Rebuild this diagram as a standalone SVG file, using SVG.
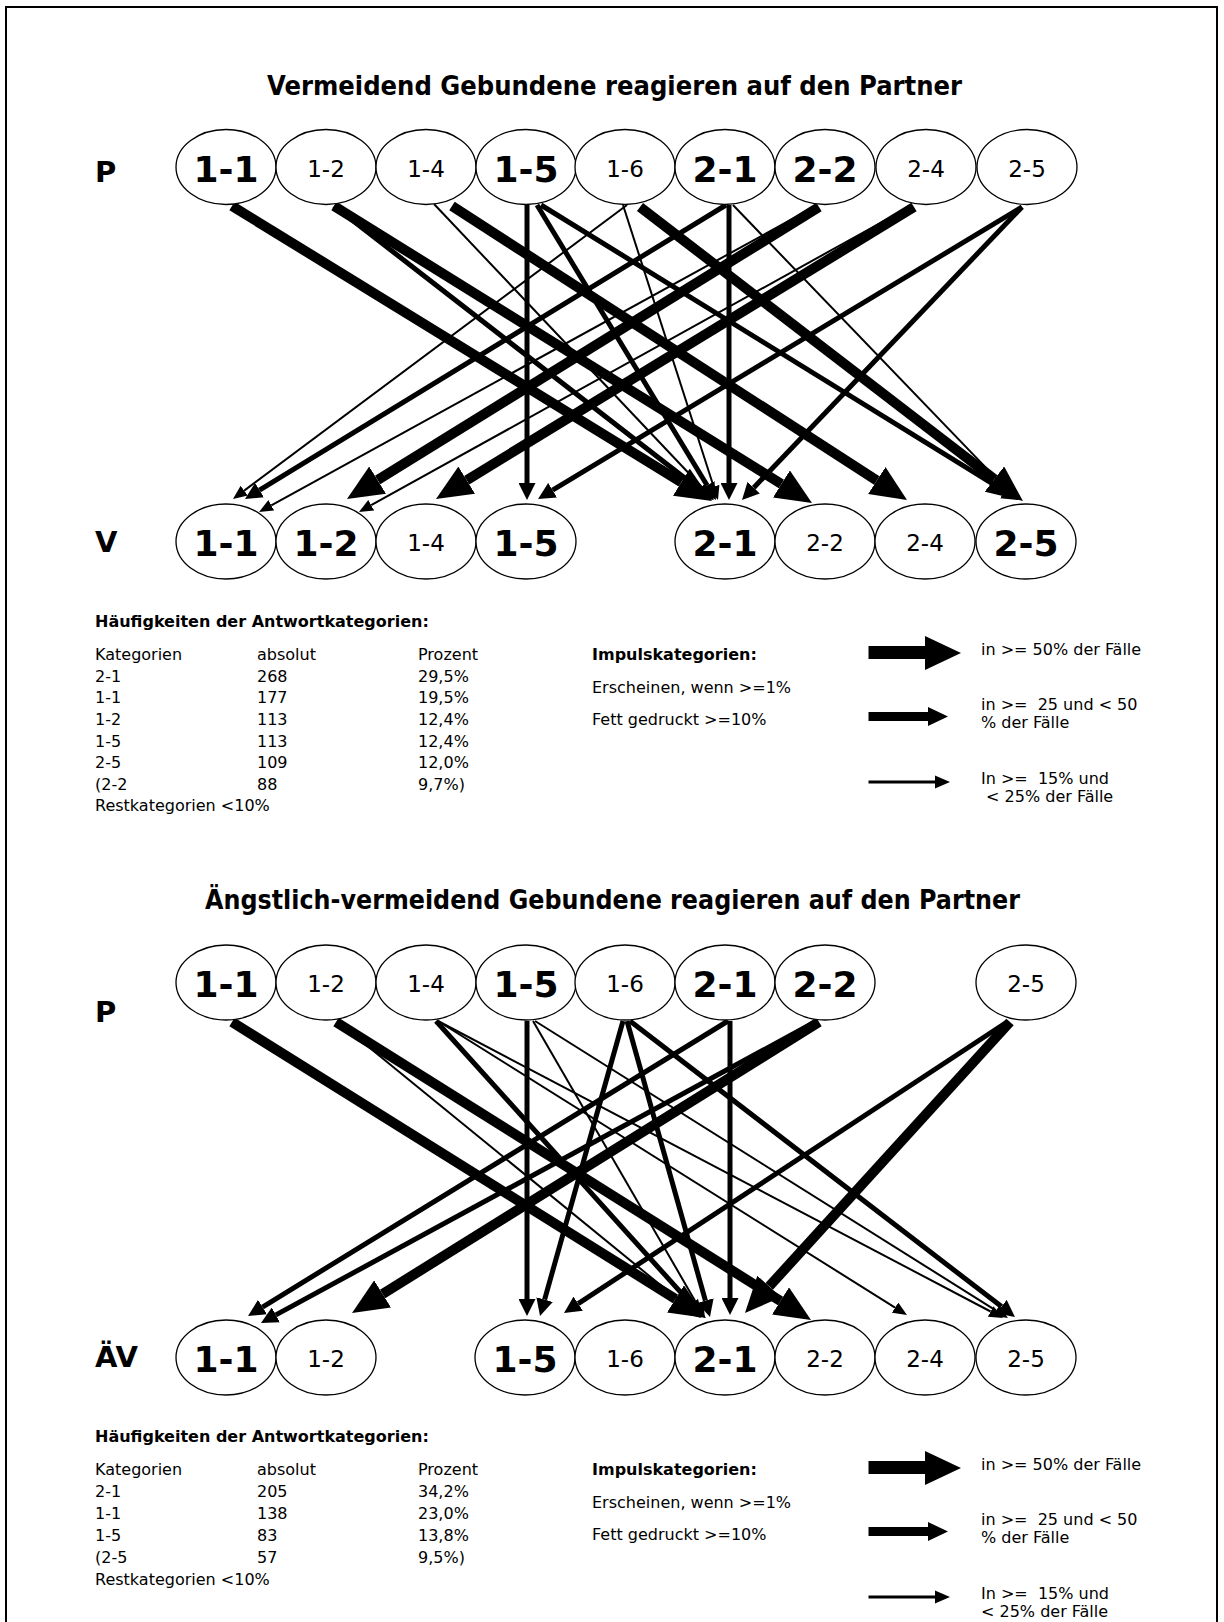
<svg xmlns="http://www.w3.org/2000/svg" width="1224" height="1622" viewBox="0 0 1224 1622">
<style>
.node ellipse{fill:#fff;stroke:#000;stroke-width:1.3}
.b{font-family:"DejaVu Sans",Verdana,sans-serif;font-weight:bold;font-size:36px;text-anchor:middle}
.r{font-family:"DejaVu Sans",Verdana,sans-serif;font-size:23px;text-anchor:middle}
.title{font-family:"DejaVu Sans",Verdana,sans-serif;font-weight:bold;font-size:27px}
.row{font-family:"DejaVu Sans",Verdana,sans-serif;font-weight:bold;font-size:29px}
.t{font-family:"DejaVu Sans",Verdana,sans-serif;font-size:16px}
.th{font-family:"DejaVu Sans",Verdana,sans-serif;font-size:16px;font-weight:bold}
.c line{stroke:#000;fill:none}
.k{stroke-width:10;marker-end:url(#mk)}
.m{stroke-width:5;marker-end:url(#mm)}
.n{stroke-width:2;marker-end:url(#mn)}
</style>
<defs>
<marker id="mk" markerUnits="userSpaceOnUse" viewBox="0 -16 36 32" markerWidth="36" markerHeight="32" refX="0" refY="0" orient="auto"><path d="M0,-16 L36,0 L0,16 z"/></marker>
<marker id="mm" markerUnits="userSpaceOnUse" viewBox="0 -8.5 17 17" markerWidth="17" markerHeight="17" refX="0" refY="0" orient="auto"><path d="M0,-8.5 L17,0 L0,8.5 z"/></marker>
<marker id="mn" markerUnits="userSpaceOnUse" viewBox="0 -6 14 12" markerWidth="14" markerHeight="12" refX="0" refY="0" orient="auto"><path d="M0,-6 L14,0 L0,6 z"/></marker>
</defs>
<rect x="6" y="7" width="1211" height="1640" fill="#fff" stroke="#000" stroke-width="2"/>

<!-- ===== Diagram 1 ===== -->
<text class="title" x="267" y="95" textLength="695" lengthAdjust="spacingAndGlyphs">Vermeidend Gebundene reagieren auf den Partner</text>
<text class="row" x="95" y="182">P</text>
<text class="row" x="95" y="552">V</text>

<g class="c" id="connectors-1">
<line class="k" x1="232" y1="206" x2="681.3" y2="482.2"/>
<line class="k" x1="334" y1="206" x2="781.4" y2="484"/>
<line class="m" x1="334" y1="206" x2="699.6" y2="489.6"/>
<line class="n" x1="434" y1="204" x2="704.4" y2="489.8"/>
<line class="k" x1="452" y1="206" x2="876.8" y2="480.5"/>
<line class="m" x1="527" y1="205" x2="527" y2="483"/>
<line class="m" x1="537" y1="205" x2="707.2" y2="485.5"/>
<line class="m" x1="541" y1="205" x2="1004.5" y2="491.1"/>
<line class="n" x1="627" y1="205" x2="244.2" y2="490.6"/>
<line class="n" x1="623" y1="205" x2="713.7" y2="486.7"/>
<line class="k" x1="640" y1="207" x2="994.4" y2="479.1"/>
<line class="m" x1="726" y1="205" x2="259.5" y2="490.1"/>
<line class="m" x1="729" y1="205" x2="729" y2="483"/>
<line class="n" x1="733" y1="205" x2="1007.3" y2="489.9"/>
<line class="k" x1="819" y1="207" x2="377.6" y2="480.1"/>
<line class="n" x1="816" y1="206" x2="271.3" y2="505.3"/>
<line class="k" x1="914" y1="207" x2="466.7" y2="480.2"/>
<line class="n" x1="911" y1="206" x2="371.2" y2="505.2"/>
<line class="m" x1="1022" y1="207" x2="552.6" y2="490.2"/>
<line class="m" x1="1022" y1="207" x2="753.7" y2="487.7"/>
</g>

<g class="node" id="p1-11"><ellipse cx="226" cy="167" rx="50" ry="37.5"/><text class="b" x="226" y="181.5">1-1</text></g>
<g class="node" id="p1-12"><ellipse cx="326" cy="167" rx="50" ry="37.5"/><text class="r" x="326" y="176.5">1-2</text></g>
<g class="node" id="p1-14"><ellipse cx="426" cy="167" rx="50" ry="37.5"/><text class="r" x="426" y="176.5">1-4</text></g>
<g class="node" id="p1-15"><ellipse cx="526" cy="167" rx="50" ry="37.5"/><text class="b" x="526" y="181.5">1-5</text></g>
<g class="node" id="p1-16"><ellipse cx="625" cy="167" rx="50" ry="37.5"/><text class="r" x="625" y="176.5">1-6</text></g>
<g class="node" id="p1-21"><ellipse cx="725" cy="167" rx="50" ry="37.5"/><text class="b" x="725" y="181.5">2-1</text></g>
<g class="node" id="p1-22"><ellipse cx="825" cy="167" rx="50" ry="37.5"/><text class="b" x="825" y="181.5">2-2</text></g>
<g class="node" id="p1-24"><ellipse cx="926" cy="167" rx="50" ry="37.5"/><text class="r" x="926" y="176.5">2-4</text></g>
<g class="node" id="p1-25"><ellipse cx="1027" cy="167" rx="50" ry="37.5"/><text class="r" x="1027" y="176.5">2-5</text></g>

<g class="node" id="v-11"><ellipse cx="226" cy="541.5" rx="50" ry="37.5"/><text class="b" x="226" y="556">1-1</text></g>
<g class="node" id="v-12"><ellipse cx="326" cy="541.5" rx="50" ry="37.5"/><text class="b" x="326" y="556">1-2</text></g>
<g class="node" id="v-14"><ellipse cx="426" cy="541.5" rx="50" ry="37.5"/><text class="r" x="426" y="551">1-4</text></g>
<g class="node" id="v-15"><ellipse cx="526" cy="541.5" rx="50" ry="37.5"/><text class="b" x="526" y="556">1-5</text></g>
<g class="node" id="v-21"><ellipse cx="725" cy="541.5" rx="50" ry="37.5"/><text class="b" x="725" y="556">2-1</text></g>
<g class="node" id="v-22"><ellipse cx="825" cy="541.5" rx="50" ry="37.5"/><text class="r" x="825" y="551">2-2</text></g>
<g class="node" id="v-24"><ellipse cx="925" cy="541.5" rx="50" ry="37.5"/><text class="r" x="925" y="551">2-4</text></g>
<g class="node" id="v-25"><ellipse cx="1026" cy="541.5" rx="50" ry="37.5"/><text class="b" x="1026" y="556">2-5</text></g>

<g id="legend-1">
<text class="th" x="95" y="627">Häufigkeiten der Antwortkategorien:</text>
<text class="t" x="95" y="660">Kategorien</text><text class="t" x="257" y="660">absolut</text><text class="t" x="418" y="660">Prozent</text>
<text class="t" x="95" y="682">2-1</text><text class="t" x="257" y="682">268</text><text class="t" x="418" y="682">29,5%</text>
<text class="t" x="95" y="703">1-1</text><text class="t" x="257" y="703">177</text><text class="t" x="418" y="703">19,5%</text>
<text class="t" x="95" y="725">1-2</text><text class="t" x="257" y="725">113</text><text class="t" x="418" y="725">12,4%</text>
<text class="t" x="95" y="747">1-5</text><text class="t" x="257" y="747">113</text><text class="t" x="418" y="747">12,4%</text>
<text class="t" x="95" y="768">2-5</text><text class="t" x="257" y="768">109</text><text class="t" x="418" y="768">12,0%</text>
<text class="t" x="95" y="790">(2-2</text><text class="t" x="257" y="790">88</text><text class="t" x="418" y="790">9,7%)</text>
<text class="t" x="95" y="811">Restkategorien &lt;10%</text>
<text class="th" x="592" y="660">Impulskategorien:</text>
<text class="t" x="592" y="693">Erscheinen, wenn &gt;=1%</text>
<text class="t" x="592" y="725">Fett gedruckt &gt;=10%</text>
<rect x="868.5" y="646" width="57" height="13"/><path d="M925,636 L961,653 L925,670 z"/>
<rect x="868.5" y="712" width="60" height="9"/><path d="M928,707 L948,716.5 L928,726 z"/>
<rect x="868.5" y="780.5" width="67" height="3"/><path d="M935,775.5 L950,782 L935,788.5 z"/>
<text class="t" x="981" y="655">in &gt;= 50% der Fälle</text>
<text class="t" x="981" y="710" xml:space="preserve">in &gt;=  25 und &lt; 50</text>
<text class="t" x="981" y="728">% der Fälle</text>
<text class="t" x="981" y="784" xml:space="preserve">In &gt;=  15% und</text>
<text class="t" x="981" y="802" xml:space="preserve"> &lt; 25% der Fälle</text>
</g>

<!-- ===== Diagram 2 ===== -->
<text class="title" x="205" y="909" textLength="815" lengthAdjust="spacingAndGlyphs">Ängstlich-vermeidend Gebundene reagieren auf den Partner</text>
<text class="row" x="95" y="1022">P</text>
<text class="row" x="95" y="1367">ÄV</text>

<g class="c" id="connectors-2">
<line class="k" x1="232" y1="1022" x2="675.5" y2="1298.9"/>
<line class="k" x1="336" y1="1022" x2="780.5" y2="1300.9"/>
<line class="n" x1="338" y1="1022" x2="690.1" y2="1309.2"/>
<line class="m" x1="436" y1="1021" x2="691.6" y2="1304.4"/>
<line class="n" x1="438" y1="1021" x2="895.1" y2="1307.6"/>
<line class="n" x1="438" y1="1021" x2="990.6" y2="1311.5"/>
<line class="m" x1="527" y1="1021" x2="527" y2="1299"/>
<line class="n" x1="533" y1="1021" x2="698" y2="1305.9"/>
<line class="n" x1="535" y1="1021" x2="996.1" y2="1310.6"/>
<line class="m" x1="623" y1="1021" x2="544.6" y2="1299.6"/>
<line class="m" x1="627" y1="1021" x2="705.4" y2="1300.6"/>
<line class="m" x1="630" y1="1021" x2="1001.5" y2="1306.6"/>
<line class="m" x1="728" y1="1021" x2="262.5" y2="1307.1"/>
<line class="m" x1="730" y1="1021" x2="730" y2="1298"/>
<line class="k" x1="819" y1="1022" x2="382.6" y2="1294"/>
<line class="m" x1="815" y1="1022" x2="275.9" y2="1314.9"/>
<line class="k" x1="1010" y1="1022" x2="769.2" y2="1286.4"/>
<line class="m" x1="1007" y1="1022" x2="578.2" y2="1303.7"/>
</g>

<g class="node" id="p2-11"><ellipse cx="226" cy="982.5" rx="50" ry="37.5"/><text class="b" x="226" y="997">1-1</text></g>
<g class="node" id="p2-12"><ellipse cx="326" cy="982.5" rx="50" ry="37.5"/><text class="r" x="326" y="992">1-2</text></g>
<g class="node" id="p2-14"><ellipse cx="426" cy="982.5" rx="50" ry="37.5"/><text class="r" x="426" y="992">1-4</text></g>
<g class="node" id="p2-15"><ellipse cx="526" cy="982.5" rx="50" ry="37.5"/><text class="b" x="526" y="997">1-5</text></g>
<g class="node" id="p2-16"><ellipse cx="625" cy="982.5" rx="50" ry="37.5"/><text class="r" x="625" y="992">1-6</text></g>
<g class="node" id="p2-21"><ellipse cx="725" cy="982.5" rx="50" ry="37.5"/><text class="b" x="725" y="997">2-1</text></g>
<g class="node" id="p2-22"><ellipse cx="825" cy="982.5" rx="50" ry="37.5"/><text class="b" x="825" y="997">2-2</text></g>
<g class="node" id="p2-25"><ellipse cx="1026" cy="982.5" rx="50" ry="37.5"/><text class="r" x="1026" y="992">2-5</text></g>

<g class="node" id="av-11"><ellipse cx="226" cy="1357.5" rx="50" ry="37.5"/><text class="b" x="226" y="1372">1-1</text></g>
<g class="node" id="av-12"><ellipse cx="326" cy="1357.5" rx="50" ry="37.5"/><text class="r" x="326" y="1367">1-2</text></g>
<g class="node" id="av-15"><ellipse cx="525" cy="1357.5" rx="50" ry="37.5"/><text class="b" x="525" y="1372">1-5</text></g>
<g class="node" id="av-16"><ellipse cx="625" cy="1357.5" rx="50" ry="37.5"/><text class="r" x="625" y="1367">1-6</text></g>
<g class="node" id="av-21"><ellipse cx="725" cy="1357.5" rx="50" ry="37.5"/><text class="b" x="725" y="1372">2-1</text></g>
<g class="node" id="av-22"><ellipse cx="825" cy="1357.5" rx="50" ry="37.5"/><text class="r" x="825" y="1367">2-2</text></g>
<g class="node" id="av-24"><ellipse cx="925" cy="1357.5" rx="50" ry="37.5"/><text class="r" x="925" y="1367">2-4</text></g>
<g class="node" id="av-25"><ellipse cx="1026" cy="1357.5" rx="50" ry="37.5"/><text class="r" x="1026" y="1367">2-5</text></g>

<g id="legend-2">
<text class="th" x="95" y="1442">Häufigkeiten der Antwortkategorien:</text>
<text class="t" x="95" y="1475">Kategorien</text><text class="t" x="257" y="1475">absolut</text><text class="t" x="418" y="1475">Prozent</text>
<text class="t" x="95" y="1497">2-1</text><text class="t" x="257" y="1497">205</text><text class="t" x="418" y="1497">34,2%</text>
<text class="t" x="95" y="1519">1-1</text><text class="t" x="257" y="1519">138</text><text class="t" x="418" y="1519">23,0%</text>
<text class="t" x="95" y="1541">1-5</text><text class="t" x="257" y="1541">83</text><text class="t" x="418" y="1541">13,8%</text>
<text class="t" x="95" y="1563">(2-5</text><text class="t" x="257" y="1563">57</text><text class="t" x="418" y="1563">9,5%)</text>
<text class="t" x="95" y="1585">Restkategorien &lt;10%</text>
<text class="th" x="592" y="1475">Impulskategorien:</text>
<text class="t" x="592" y="1508">Erscheinen, wenn &gt;=1%</text>
<text class="t" x="592" y="1540">Fett gedruckt &gt;=10%</text>
<rect x="868.5" y="1461" width="57" height="13"/><path d="M925,1451 L961,1468 L925,1485 z"/>
<rect x="868.5" y="1527" width="60" height="9"/><path d="M928,1522 L948,1531.5 L928,1541 z"/>
<rect x="868.5" y="1595.5" width="67" height="3"/><path d="M935,1590.5 L950,1597 L935,1603.5 z"/>
<text class="t" x="981" y="1470">in &gt;= 50% der Fälle</text>
<text class="t" x="981" y="1525" xml:space="preserve">in &gt;=  25 und &lt; 50</text>
<text class="t" x="981" y="1543">% der Fälle</text>
<text class="t" x="981" y="1599" xml:space="preserve">In &gt;=  15% und</text>
<text class="t" x="981" y="1617">&lt; 25% der Fälle</text>
</g>
</svg>
